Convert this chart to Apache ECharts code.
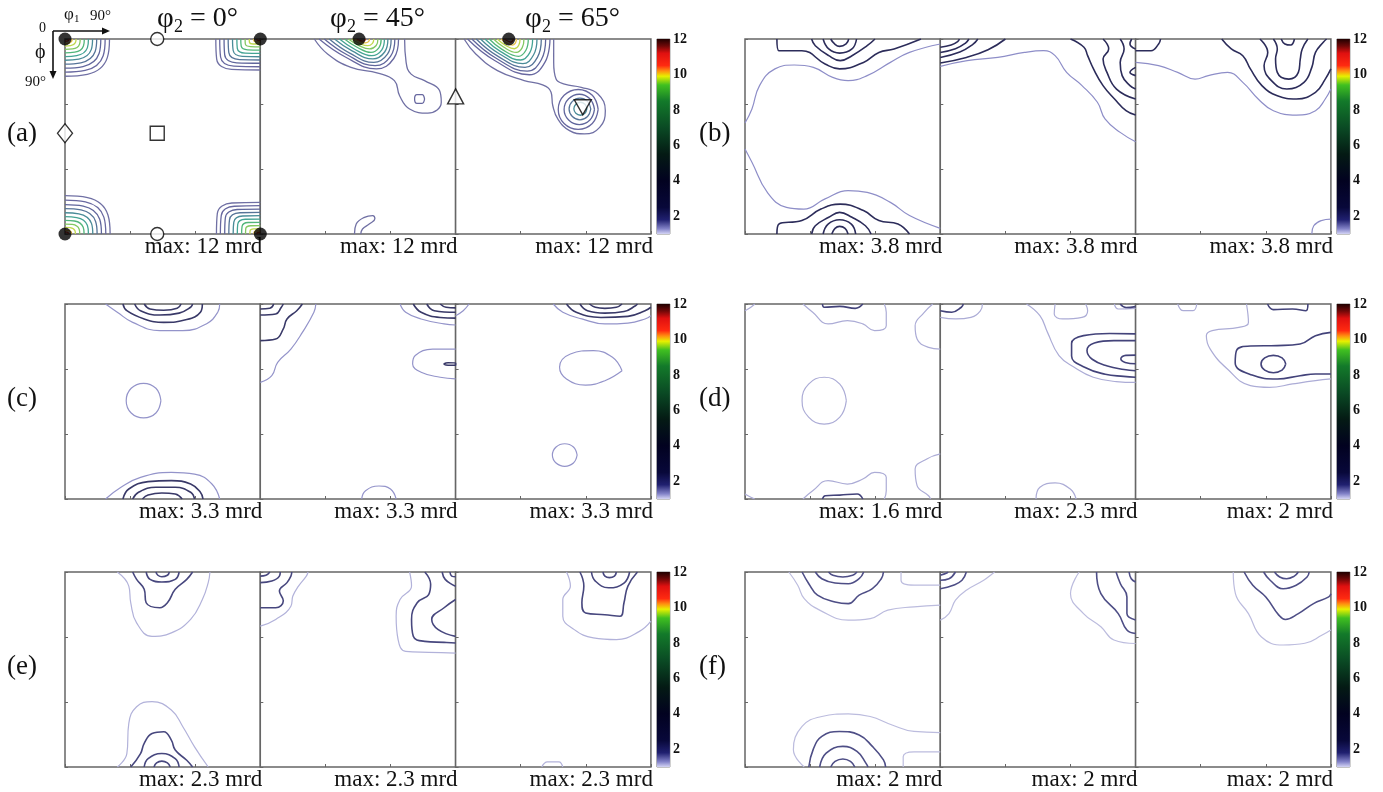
<!DOCTYPE html>
<html>
<head>
<meta charset="utf-8">
<script src="https://cdn.jsdelivr.net/npm/echarts@6/dist/echarts.min.js"></script>
<style>
html, body { margin: 0; padding: 0; background: #fff; }
#chart { width: 1383px; height: 792px; }
</style>
</head>
<body>
<div id="chart"></div>
<script>
// ODF sections: x = phi1 (0-90), y = Phi (0-90, downwards). Each contour = [level, points]
const panelNames = ['a', 'b', 'c', 'd', 'e', 'f'];
const phi2Values = [0, 45, 65];
const maxValues = [[12, 12, 12], [3.8, 3.8, 3.8], [3.3, 3.3, 3.3], [1.6, 2.3, 2], [2.3, 2.3, 2.3], [2, 2, 2]];
const barTicks = [2, 4, 6, 8, 10, 12];

// (a) phi2 = 0
const a1 = [
  [1, [[20.5,0],[19.5,8.6],[10.3,16.3],[0,17.2]]],
  [2, [[18.5,0],[17.6,7.7],[9.3,14.5],[0,15.3]]],
  [3, [[16.5,0],[15.7,6.7],[8.3,12.7],[0,13.4]]],
  [4, [[14.6,0],[13.9,5.8],[7.3,11.0],[0,11.6]]],
  [5, [[12.7,0],[12.1,4.9],[6.4,9.3],[0,9.8]]],
  [6, [[10.8,0],[10.3,4.1],[5.4,7.7],[0,8.1]]],
  [7, [[8.9,0],[8.5,3.2],[4.5,6.1],[0,6.4]]],
  [8, [[7.0,0],[6.7,2.4],[3.5,4.6],[0,4.8]]],
  [9, [[5.1,0],[4.8,1.7],[2.6,3.1],[0,3.3]]],
  [10, [[3.3,0],[3.1,1.0],[1.7,1.9],[0,2.0]]],
  [11, [[1.8,0],[1.7,0.5],[0.9,1.0],[0,1.0]]],
  [1, [[69.5,0],[69.9,9.3],[76.7,14.0],[90,14.3]]],
  [2, [[71.3,0],[71.7,8.3],[77.8,12.5],[90,12.8]]],
  [3, [[73.3,0],[73.6,7.3],[79.1,11.0],[90,11.2]]],
  [4, [[75.2,0],[75.5,6.3],[80.4,9.5],[90,9.7]]],
  [5, [[77.2,0],[77.5,5.3],[81.7,8.0],[90,8.2]]],
  [6, [[79.2,0],[79.4,4.3],[83.0,6.5],[90,6.6]]],
  [7, [[81.0,0],[81.2,3.3],[84.2,5.0],[90,5.1]]],
  [8, [[83.0,0],[83.1,2.3],[85.5,3.5],[90,3.6]]],
  [9, [[84.9,0],[85.0,1.5],[86.7,2.3],[90,2.3]]],
  [10, [[86.9,0],[87.0,0.8],[88.0,1.3],[90,1.3]]],
  [11, [[88.4,0],[88.4,0.4],[89.0,0.6],[90,0.6]]],
  [1, [[20.8,90],[19.8,81.2],[10.4,73.2],[0,72.3]]],
  [2, [[18.8,90],[17.9,82.2],[9.4,75.2],[0,74.4]]],
  [3, [[16.8,90],[16.0,83.2],[8.4,77.1],[0,76.4]]],
  [4, [[14.8,90],[14.1,84.2],[7.4,78.9],[0,78.3]]],
  [5, [[12.8,90],[12.2,85.1],[6.4,80.7],[0,80.2]]],
  [6, [[10.8,90],[10.3,86.0],[5.4,82.4],[0,82.0]]],
  [7, [[8.8,90],[8.4,86.9],[4.4,84.0],[0,83.7]]],
  [8, [[6.8,90],[6.5,87.7],[3.4,85.6],[0,85.4]]],
  [9, [[4.8,90],[4.6,88.5],[2.4,87.1],[0,86.9]]],
  [10, [[3.0,90],[2.9,89.1],[1.5,88.3],[0,88.2]]],
  [11, [[1.6,90],[1.5,89.5],[0.8,89.1],[0,89.1]]],
  [1, [[69.8,90],[70.2,80.5],[76.9,75.7],[90,75.4]]],
  [2, [[71.6,90],[72.0,81.5],[78.0,77.2],[90,76.9]]],
  [3, [[73.6,90],[73.9,82.5],[79.3,78.7],[90,78.5]]],
  [4, [[75.5,90],[75.8,83.5],[80.6,80.2],[90,80.0]]],
  [5, [[77.5,90],[77.8,84.5],[81.9,81.7],[90,81.5]]],
  [6, [[79.4,90],[79.6,85.5],[83.1,83.2],[90,83.1]]],
  [7, [[81.4,90],[81.6,86.5],[84.4,84.7],[90,84.6]]],
  [8, [[83.2,90],[83.3,87.5],[85.6,86.2],[90,86.1]]],
  [9, [[85.2,90],[85.3,88.4],[86.9,87.6],[90,87.5]]],
  [10, [[87.1,90],[87.2,89.1],[88.1,88.6],[90,88.6]]],
  [11, [[88.5,90],[88.5,89.5],[89.0,89.3],[90,89.3]]]
];
// (a) phi2 = 45
const a2 = [
  [1, [[24.9,0],[31,6.9],[41.8,13.1],[54.2,15.7],[61.8,19.2],[64.2,26.2],[68.8,32.3],[77.2,34.2],[83.4,29.2],[82.6,23.8],[75.7,19.2],[69.5,16.2],[67.2,10.8],[66.5,0]]],
  [2, [[75.7,27.7],[74.6,29.7],[72.2,29.7],[71.1,27.7],[72.2,25.7],[74.6,25.7],[75.7,27.7]]],
  [2, [[27.1,0],[39.2,8.3],[53.5,13.8],[61.5,9.0],[63.7,0]]],
  [3, [[29.5,0],[40.2,7.4],[52.9,12.3],[60.0,8.0],[62,0]]],
  [4, [[31.8,0],[41.2,6.5],[52.3,10.8],[58.6,7.0],[60.3,0]]],
  [5, [[34.2,0],[42.3,5.5],[51.9,9.2],[57.3,6.0],[58.8,0]]],
  [6, [[36.5,0],[43.3,4.6],[51.4,7.7],[56.0,5.0],[57.2,0]]],
  [7, [[38.8,0],[44.4,3.7],[51.0,6.2],[54.7,4.0],[55.7,0]]],
  [8, [[40.6,0],[45.1,2.8],[50.4,4.6],[53.4,3.0],[54.2,0]]],
  [9, [[42.2,0],[45.5,1.9],[49.5,3.1],[51.7,2.0],[52.3,0]]],
  [10, [[43.5,0],[45.7,1.1],[48.4,1.8],[49.9,1.2],[50.3,0]]],
  [11, [[44.5,0],[45.8,0.6],[47.3,1.0],[48.2,0.6],[48.5,0]]],
  [1, [[43.4,90],[44.2,85.4],[48,82.3],[51.8,81.5],[52.8,83],[50.2,85.4],[47.1,87.7],[46.3,90]]]
];
// (a) phi2 = 65
const a3 = [
  [1, [[3.9,0],[9.3,6.9],[19.3,14.6],[31.6,19.2],[40.1,21.2],[44,24.6],[44.8,30.8],[47.1,36.9],[52.5,42.3],[59.4,43.8],[66.4,40.8],[69,33.1],[65.6,25.4],[57.9,22.3],[50.2,20.8],[46.3,18.5],[45.2,10.8],[45.2,0]]],
  [2, [[5.5,0],[18.0,9.9],[34.0,16.5],[41.2,10.7],[43.5,0]]],
  [3, [[7.5,0],[18.7,8.9],[33.0,14.8],[39.5,9.6],[41.5,0]]],
  [4, [[9.5,0],[19.4,7.9],[32.0,13.1],[37.7,8.5],[39.5,0]]],
  [5, [[11.5,0],[20.1,6.8],[31.0,11.4],[35.9,7.4],[37.5,0]]],
  [6, [[13.5,0],[20.8,5.8],[30.0,9.7],[34.2,6.3],[35.5,0]]],
  [7, [[15.5,0],[21.4,4.8],[29.0,8.0],[32.4,5.2],[33.5,0]]],
  [8, [[17.5,0],[22.1,3.7],[28.0,6.2],[30.7,4.0],[31.5,0]]],
  [9, [[19.3,0],[22.7,2.7],[27.1,4.5],[29.1,2.9],[29.7,0]]],
  [10, [[21,0],[23.3,1.7],[26.3,2.8],[27.6,1.8],[28,0]]],
  [11, [[22.5,0],[23.8,0.8],[25.5,1.4],[26.3,0.9],[26.5,0]]],
  [2, [[65.7,32.5],[63.0,39.0],[56.5,41.7],[50.0,39.0],[47.3,32.5],[50.0,26.0],[56.5,23.3],[63.0,26.0],[65.7,32.5]]],
  [3, [[64,32.5],[61.9,37.4],[57,39.5],[52.1,37.4],[50,32.5],[52.1,27.6],[57,25.5],[61.9,27.6],[64,32.5]]],
  [4, [[62.3,32.3],[60.8,35.8],[57.3,37.3],[53.8,35.8],[52.3,32.3],[53.8,28.8],[57.3,27.3],[60.8,28.8],[62.3,32.3]]],
  [5, [[60.5,32.2],[59.6,34.3],[57.5,35.2],[55.4,34.3],[54.5,32.2],[55.4,30.1],[57.5,29.2],[59.6,30.1],[60.5,32.2]]]
];
// (b)
const b1 = [
  [1, [[0,38.8],[3.2,32.3],[6.7,21.5],[13.8,13.8],[22.7,12],[31.5,13.1],[40.4,17.7],[47.5,19.2],[56.3,16.9],[67,10.8],[75.8,6.2],[90,2.3]]],
  [2, [[14.7,0],[15.6,5.4],[26.2,5.4],[36.9,11.5],[43.6,13.8],[54.6,10.8],[61.7,6.2],[68.7,4.6],[81.1,0]]],
  [2, [[30.7,0],[32.4,3.1],[38.6,7.7],[43.9,10],[49.3,7.7],[56.3,3.1],[59.9,0]]],
  [2, [[36,0],[38.6,4.6],[43.6,6.5],[49.3,4.6],[51.4,0]]],
  [2, [[39.5,0],[41.3,2.3],[43.6,3.4],[46.6,2.3],[47.8,0]]],
  [1, [[0,50.8],[3.2,56.9],[10.3,70.8],[19.1,77.7],[27.1,78.5],[36.9,73.8],[47.5,70],[56.3,70.8],[67,75.4],[75.8,81.5],[90,87.4]]],
  [2, [[14.7,90],[15.6,85.4],[26.2,83.8],[35,78.5],[43.9,76.2],[54.6,79.2],[61.7,83.8],[70.5,85.4],[75.8,90]]],
  [2, [[30.7,90],[32.4,86.2],[38.6,82.3],[43.6,80],[49.3,82.3],[55.5,86.2],[58.1,90]]],
  [2, [[36,90],[38.3,85.4],[43.6,83.4],[49,85.4],[51,90]]],
  [2, [[40,90],[41.5,87.4],[43.6,86.5],[46.1,87.4],[47.5,90]]]
];
const b2 = [
  [1, [[0,12.6],[12.4,10],[26.5,8.5],[38.8,6.2],[47.6,5.4],[52.9,7.7],[58.2,15.4],[65.3,21.5],[72.4,29.2],[75.9,36.9],[82.9,43.1],[90,47.4]]],
  [2, [[0,11.1],[12,8.5],[22,5],[30,0]]],
  [2, [[0,8.5],[9,6],[15,2.5],[17.3,0]]],
  [2, [[0,6.2],[7,4.5],[11.5,2],[13.2,0]]],
  [2, [[0,3.8],[5,2.8],[8,1.2],[8.8,0]]],
  [2, [[60,0],[66.2,3.8],[67.9,7.7],[70.6,13.8],[75,21.5],[80.3,27.7],[85.6,33.1],[90,35.1]]],
  [2, [[75,0],[77.6,4.6],[75,9.2],[76.8,15.4],[81.2,23.1],[90,27.7]]],
  [2, [[82.9,0],[84.7,4.6],[82.9,10.8],[83.8,16.9],[87.4,21.5],[90,23.1]]],
  [2, [[88.2,0],[87.4,2.3],[90,4.6]]],
  [2, [[90,13.1],[87.4,15.4],[90,16.9]]]
];
const b3 = [
  [1, [[0,10.8],[10.6,12.3],[19.4,15.4],[27.4,18.5],[33.5,16.9],[42.4,15.4],[49.4,20],[56.5,27.7],[63.5,33.1],[74.1,35.1],[82.9,33.1],[87.4,27.7],[90,23.1]]],
  [2, [[0,5.4],[7.1,5.4],[10.6,2.3],[11.5,0]]],
  [2, [[39.7,0],[44.1,4.6],[49.4,7.7],[52.9,13.8],[58.2,21.5],[65.3,26.2],[74.1,27.7],[82.9,24.6],[87.4,18.5],[90,13.8]]],
  [2, [[57.3,0],[60.9,6.2],[59.2,12.3],[62.6,19.2],[69.7,23.1],[77.6,20],[81.2,13.1],[82.9,6.2],[86.5,1.5],[88,0]]],
  [2, [[63.5,0],[65.3,4.6],[64.5,9.2],[65.3,15.4],[70.6,18.5],[75,15.4],[75.9,9.2],[76.8,4.6],[79.4,0]]],
  [2, [[67.1,0],[68.8,2.3],[71.5,2.8],[73.2,0]]],
  [1, [[81.2,90],[82.1,86.2],[85.6,83.8],[90,83.1]]]
];
// (c)
const c1 = [
  [1, [[18.7,0],[24.1,3.8],[31.2,8.5],[43.7,12.3],[54.3,12.3],[65.1,9.2],[70.4,3.8],[71.3,0]]],
  [2, [[26.7,0],[28.5,3.1],[36.5,6.9],[45.5,8.5],[56.1,7.2],[62.4,3.8],[63.3,0]]],
  [2, [[32.1,0],[34.8,3.1],[43.7,5.1],[52.6,4.2],[57.9,1.5],[58.8,0]]],
  [2, [[36.5,0],[39.2,2.3],[45.5,2.9],[51.7,2],[53.5,0]]],
  [1, [[44.2,44.6],[41.9,50.3],[36.2,52.6],[30.5,50.3],[28.2,44.6],[30.5,38.9],[36.2,36.6],[41.9,38.9],[44.2,44.6]]],
  [1, [[18.7,90],[25.8,84.6],[34.8,80],[49,77.7],[59.7,78.5],[67.7,83.1],[71.3,90]]],
  [2, [[26.7,90],[29.4,85.4],[38.3,82],[49,81.5],[57.9,83.1],[62.4,86.9],[63.6,90]]],
  [2, [[31.2,90],[33.9,86.9],[41.9,84.6],[50.8,84.6],[57.9,86.9],[59.7,90]]],
  [2, [[35.7,90],[38.3,88.2],[44.6,87.2],[50.8,87.7],[54,90]]]
];
const c2 = [
  [1, [[0,36.2],[5.3,33.1],[8,26.9],[14.1,20.8],[19.4,13.1],[24.7,3.8],[25.6,0]]],
  [2, [[0,16.9],[7.1,16.2],[10.6,11.5],[12.3,6.9],[16.8,3.1],[19.4,0]]],
  [2, [[0,5.1],[7.1,4.6],[9.7,1.5],[10.6,0]]],
  [2, [[0,2.3],[4.4,2],[6.2,0]]],
  [1, [[64.4,0],[67,3.8],[74.1,6.9],[84.7,9.2],[90,9.7]]],
  [2, [[70.5,0],[74.1,3.8],[82.9,6.2],[90,6.5]]],
  [2, [[76.7,0],[80.2,3.1],[90,3.8]]],
  [2, [[82.9,0],[85.6,1.5],[90,1.8]]],
  [1, [[90,20.8],[79.4,20.8],[71.4,23.8],[70.2,27.7],[74.1,31.5],[82.9,33.8],[90,34.6]]],
  [2, [[84.5,27.7],[86.5,27.1],[90,27.2],[90,28.3],[86.5,28.3],[84.5,27.7]]],
  [1, [[46.7,90],[48.5,86.2],[54.7,84],[60,85.4],[62.6,90]]]
];
const c3 = [
  [1, [[0,5.4],[3.5,3.1],[6.2,0]]],
  [1, [[45,0],[49.4,3.8],[58.2,6.9],[68.8,9.2],[79.4,8.8],[87.3,6.9],[90,5.4]]],
  [2, [[51.1,0],[55.6,3.8],[67,6.2],[79.4,5.7],[87.3,3.1],[90,1.5]]],
  [2, [[57.3,0],[60.8,3.1],[68.8,4.2],[77.6,3.5],[82.9,0.8],[83.8,0]]],
  [2, [[61.7,0],[64.4,1.5],[68.8,2],[74.1,1.5],[76.7,0]]],
  [1, [[76.7,30.8],[72.3,24.6],[63.5,21.5],[52.9,23.1],[47.9,29.2],[51.1,34.6],[59.9,37.4],[68.8,35.4],[76.7,30.8]]],
  [1, [[56,69.7],[54.3,73.4],[50.3,74.9],[46.3,73.4],[44.6,69.7],[46.3,66],[50.3,64.5],[54.3,66],[56,69.7]]]
];
// (d)
const d1 = [
  [1, [[26.7,0],[31.2,3.8],[38.3,9.2],[47.2,7.7],[54.3,9.2],[59.7,12.3],[65.1,10],[65.1,3.8],[64.2,0]]],
  [2, [[35.7,0],[36.5,1.5],[43.7,1.1],[50.8,2],[54.3,0]]],
  [1, [[0,3.1],[2.7,1.5],[4.5,0]]],
  [1, [[86.5,0],[82.5,4],[78.4,10],[79.3,16.2],[84.6,20],[90,20.8]]],
  [1, [[46.7,44.6],[43.7,52.2],[36.5,55.4],[29.3,52.2],[26.3,44.6],[29.3,37],[36.5,33.8],[43.7,37],[46.7,44.6]]],
  [1, [[90,69.2],[83.8,71.5],[78.4,76.2],[79.3,83.8],[84.6,88.5],[85.5,90]]],
  [1, [[26.7,90],[31.2,86.2],[38.3,81.5],[47.2,83.1],[54.3,80.8],[59.7,77.7],[65.1,80],[65.1,86.2],[64.2,90]]],
  [2, [[35.7,90],[37,88.5],[43.7,88.2],[51.7,87.7],[54.3,90]]],
  [1, [[0,87.7],[2.7,89.2],[4.5,90]]]
];
const d2 = [
  [1, [[0,6.2],[7.1,6.9],[14.1,6.2],[18.5,3.1],[19.4,0]]],
  [2, [[0,3.1],[5.3,3.8],[9.7,1.5],[10.6,0]]],
  [1, [[39.7,0],[45.9,5.4],[49.4,13.1],[54.7,23.8],[61.7,29.2],[70.5,33.8],[81.1,35.8],[90,36.2]]],
  [1, [[52.9,0],[52.5,4.6],[56.4,6.9],[65.3,6.2],[67.9,3.1],[67,0]]],
  [1, [[80.2,0],[82,2.3],[90,2]]],
  [2, [[82.9,0],[85.6,1.6],[90,1.2]]],
  [2, [[90,13.8],[78,13.6],[66,14.6],[60.5,18.2],[60.5,24],[66.5,29.2],[76,32.4],[84.5,33.4],[90,33.8]]],
  [2, [[90,16.9],[80,16.9],[71,18],[67.6,21.5],[70,25.5],[77,28.6],[84.7,30.2],[90,30.8]]],
  [2, [[90,23.6],[85.5,23.7],[83.2,25.3],[85.2,27],[90,27.6]]],
  [1, [[44.1,90],[45.9,84.6],[52.9,82.6],[59.9,85.4],[62.6,90]]]
];
const d3 = [
  [1, [[19.4,0],[22,3.1],[26.5,3.1],[28.2,0]]],
  [2, [[60.8,0],[63.5,2.6],[72.3,2.3],[78.5,3.1],[79.4,0]]],
  [1, [[51.1,0],[52,8.5],[47.6,10.8],[35.3,12.3],[32.6,14.6],[34.4,20.8],[42.3,30],[52.9,37.7],[61.7,38.5],[72.3,36.9],[82.9,35.4],[90,34.6]]],
  [2, [[90,13.1],[82.9,14.6],[75.8,18.5],[65.3,19.2],[53,19.4],[46.5,21.5],[45.9,27.2],[53.7,32.8],[65.3,34.6],[75.8,33.1],[82.9,32.3],[90,32.3]]],
  [2, [[69.2,27.7],[67.5,30.5],[63.5,31.7],[59.5,30.5],[57.8,27.7],[59.5,24.9],[63.5,23.7],[67.5,24.9],[69.2,27.7]]]
];
// (e)
const e1 = [
  [1, [[24.1,0],[29.4,6.5],[30.3,14.2],[33,23.5],[40.1,29.7],[49,28.1],[57.9,21.9],[63.3,12.7],[66,4.9],[66.8,0]]],
  [2, [[31.2,0],[33,3.4],[36.5,8],[37.4,14.2],[43.7,16.5],[47.2,14.2],[50.8,8],[56.1,3.4],[58.8,0]]],
  [2, [[37.4,0],[39.2,3.4],[44.6,4.6],[50.8,3.4],[52.6,0]]],
  [2, [[41.9,0],[42.8,1.5],[44.6,2.2],[47.2,1.5],[48.1,0]]],
  [1, [[24.1,90],[28.5,83.8],[29.4,69.9],[33,62.2],[40.1,59.8],[49,63.7],[54.3,71.4],[59.7,80.7],[66,90]]],
  [2, [[30.3,90],[34.8,83.8],[36.5,79.1],[40.1,74.5],[45.5,73.7],[49,77.6],[50.8,82.2],[56.1,86.9],[58.8,90]]],
  [2, [[36.5,90],[38.3,86.1],[44.6,83.8],[50.8,86.1],[52.6,90]]],
  [2, [[41,90],[42.2,88.1],[44.6,87.3],[47.2,88.1],[48.5,90]]]
];
const e2 = [
  [1, [[0,25],[7.1,21.9],[14.1,15.8],[15,11.1],[17.6,6.5],[21.2,1.9],[22,0]]],
  [2, [[0,16.5],[7.1,16.5],[10.6,13.3],[8.8,8.8],[12.3,4.9],[14.1,1.9],[14.5,0]]],
  [2, [[0,4.9],[5.3,4.2],[8.8,1.9],[9.2,0]]],
  [2, [[0,1.9],[2.6,1.5],[4.4,0]]],
  [1, [[68.8,0],[69.7,6.5],[64.4,12.7],[62.6,20.4],[63.5,31.2],[67,36.6],[77.6,37.1],[90,37.4]]],
  [2, [[75.8,0],[78.5,5.7],[77.6,10.4],[72.3,14.2],[69.7,21.9],[70.5,29.7],[75.8,32],[84.7,32.5],[90,32.8]]],
  [2, [[83.8,0],[85.2,3.4],[89.1,6.2],[90,6.5]]],
  [2, [[90,12.7],[84.7,16.5],[79,21.9],[82,26.6],[90,29.7]]],
  [2, [[87.4,0],[88.2,1.9],[90,2.2]]]
];
const e3 = [
  [1, [[51.1,0],[52.9,6.5],[49.4,12.7],[49.4,20.4],[54.7,26.6],[63.5,30.4],[74.1,31.2],[84.7,27.4],[90,22.7]]],
  [2, [[57.3,0],[59.1,6.5],[58.2,14.2],[59.9,18.9],[68.8,19.7],[75.8,20.4],[77.6,14.2],[79.4,6.5],[83.8,0]]],
  [2, [[62.6,0],[64.4,4.2],[70.5,7.3],[77.6,5.1],[80.2,0]]],
  [2, [[67.9,0],[68.8,1.9],[70.9,2.6],[73.2,1.9],[74.1,0]]],
  [1, [[39.7,90],[42.3,87.6],[47.6,87.6],[49.4,90]]]
];
// (f)
const f1 = [
  [1, [[20.2,0],[24.3,6.1],[27.3,12.3],[34.4,17.6],[47.6,22.2],[57.7,21.5],[65.8,17.6],[77.9,16.1],[90,15.3]]],
  [1, [[71.9,0],[71.9,3.8],[77.9,6.1],[90,6.1]]],
  [2, [[26.3,0],[29.4,5.4],[33.4,10.7],[41.5,13.8],[47.6,14.6],[52.6,10.7],[58.7,7.7],[62.8,3.1],[63.8,0]]],
  [2, [[32.4,0],[35.4,3.1],[41.5,5.1],[47.6,5.4],[52.6,3.1],[54.7,0]]],
  [2, [[38.5,0],[40.5,1.5],[45.1,2.3],[49.6,1.5],[51.6,0]]],
  [1, [[27.3,90],[22.3,82],[26.3,71.3],[35.4,66.7],[47.6,65.5],[57.7,66.7],[67.8,70.6],[77.9,73.6],[90,74.1]]],
  [2, [[29.4,90],[31.4,82],[35.4,75.9],[43.5,73.6],[52.6,75.2],[58.7,80.5],[63.8,86.7],[64.8,90]]],
  [2, [[34.4,90],[37.4,83.6],[45.1,80.5],[51.6,82.8],[55.7,88.2],[56.7,90]]],
  [2, [[39.5,90],[41.5,87.4],[45.1,86.3],[48.6,87.4],[50.6,90]]],
  [1, [[72.9,90],[72.9,85.3],[77.9,83],[90,83]]]
];
const f2 = [
  [1, [[0,22.2],[4,19.2],[7,13],[12,8.4],[20,3.8],[24,0.8],[25,0]]],
  [2, [[0,7.7],[6,6.1],[10,3.8],[12,0]]],
  [2, [[0,3.8],[4,3.1],[7,0]]],
  [2, [[0,1.5],[3,0.5],[3.6,0]]],
  [1, [[64,0],[60,10],[66,19.2],[74,25.3],[80,31.4],[90,33]]],
  [2, [[72,0],[74,10],[82,19.2],[86,26.8],[90,28.4]]],
  [2, [[81,0],[83,5.4],[86,11.5],[86,19.2],[90,22.2]]],
  [2, [[87,0],[88,3.1],[90,4.6]]]
];
const f3 = [
  [1, [[45,0],[46,10],[52,19.2],[58,30],[68,33.7],[78,32.9],[86,29.1],[90,26.8]]],
  [2, [[50,0],[54,6.1],[60,11.5],[66,19.9],[69,21.9],[75,19.2],[82,14.6],[89,11.5],[90,10]]],
  [2, [[59,0],[62,3.8],[68,7.7],[74,6.1],[79,2.3],[80,0]]],
  [2, [[64,0],[66.4,2.3],[69.6,3.1],[73,2],[75,0]]]
];

// reference orientations in (a): [square, phi1, Phi]
const fullCircles = [[0,0,0],[0,90,0],[0,0,90],[0,90,90],[1,45.5,0],[2,24.5,0]];
const openCircles = [[0,42.5,0],[0,42.5,90]];
const diamonds = [[0,0,43.5]];
const squares = [[0,42.5,43.5]];
const upTriangles = [[2,0,26.5]];
const downTriangles = [[2,58.6,31.5]];

const sections = [a1, a2, a3, b1, b2, b3, c1, c2, c3, d1, d2, d3, e1, e2, e3, f1, f2, f3];

// ---- layout ----
const SERIF = '"Liberation Serif", "DejaVu Serif", serif';
const sq = 195.3, sqH = 195;
const colX = [65, 745];
const rowY = [39, 304, 572];
const letterX = [7, 699];
const levelColorsA = ['#7070a4','#6868a0','#60669c','#567498','#4a8c98','#44a494','#52b67a','#82c862','#c0d84e','#e8c044','#d8402c'];
const lightDark = [null, ['#8e8ec8','#2c2c5a'], ['#9494ca','#393968'], ['#acacd6','#43437a'], ['#b2b2da','#47477e'], ['#bcbcde','#4e4e86']];

const grid = [], xAxis = [], yAxis = [], series = [], graphic = [];
const tickStyle = { show: true, inside: true, length: 3, lineStyle: { color: '#666' } };

sections.forEach(function (sec, g) {
  const p = Math.floor(g / 3), j = g % 3;
  const x0 = colX[p % 2], y0 = rowY[Math.floor(p / 2)];
  grid.push({ left: x0 + j * sq, top: y0, width: sq, height: sqH, show: true, borderColor: '#666', borderWidth: 1.5, backgroundColor: '#fff' });
  xAxis.push({ gridIndex: g, type: 'value', min: 0, max: 90, interval: 30,
    axisLine: { show: false, onZero: false }, axisLabel: { show: false }, splitLine: { show: false }, axisTick: tickStyle });
  yAxis.push({ gridIndex: g, type: 'value', min: 0, max: 90, interval: 30, inverse: true,
    axisLine: { show: false }, axisLabel: { show: false }, splitLine: { show: false }, axisTick: tickStyle });
  sec.forEach(function (c) {
    const lev = c[0];
    let color, width;
    if (p === 0) { color = levelColorsA[lev - 1]; width = 1.3; }
    else { color = lev === 1 ? lightDark[p][0] : lightDark[p][1]; width = lev === 1 ? 1.2 : 1.6; }
    series.push({ type: 'line', xAxisIndex: g, yAxisIndex: g, data: c[1], smooth: 0.45,
      symbol: 'none', silent: true, z: 3, lineStyle: { color: color, width: width } });
  });
});

// colour bars
const barStops = [
  [0, '#d4d4f4'], [0.027, '#8282c8'], [0.073, '#202070'], [0.136, '#08083a'], [0.273, '#020220'],
  [0.409, '#041a14'], [0.545, '#0a4a24'], [0.682, '#137a2a'], [0.764, '#40c020'], [0.809, '#e8f000'],
  [0.836, '#ff9010'], [0.864, '#ff2a10'], [0.927, '#e01010'], [0.964, '#700808'], [1, '#200000']
];
panelNames.forEach(function (name, p) {
  const x0 = colX[p % 2], y0 = rowY[Math.floor(p / 2)];
  const gi = grid.length;
  grid.push({ left: x0 + 3 * sq + 6, top: y0, width: 13, height: sqH, show: true, borderColor: '#888', borderWidth: 1 });
  xAxis.push({ gridIndex: gi, type: 'category', data: [''], show: false });
  yAxis.push({ gridIndex: gi, type: 'value', min: 1, max: 12, position: 'right',
    axisLine: { show: false }, axisTick: { show: false }, splitLine: { show: false },
    axisLabel: { customValues: barTicks, margin: 3, color: '#111', fontFamily: SERIF, fontWeight: 'bold', fontSize: 14 } });
  series.push({ type: 'bar', xAxisIndex: gi, yAxisIndex: gi, data: [12], barWidth: '100%', silent: true,
    itemStyle: { color: new echarts.graphic.LinearGradient(0, 1, 0, 0, barStops.map(function (s) { return { offset: s[0], color: s[1] }; })) } });

  graphic.push({ type: 'text', x: letterX[p % 2], y: y0 + 95, style: { text: '(' + name + ')', font: '27px ' + SERIF, fill: '#111', textVerticalAlign: 'middle', verticalAlign: 'middle' } });
  maxValues[p].forEach(function (m, j) {
    graphic.push({ type: 'text', x: x0 + (j + 1) * sq + 2, y: y0 + sqH + 13,
      style: { text: 'max: ' + m + ' mrd', font: '23px ' + SERIF, fill: '#111', textAlign: 'right', align: 'right', textVerticalAlign: 'middle', verticalAlign: 'middle' } });
  });
});

// reference symbols in panel (a)
function addMarkers(list, symbol, size, filled, rotate) {
  list.forEach(function (m) {
    series.push({ type: 'scatter', xAxisIndex: m[0], yAxisIndex: m[0], data: [[m[1], m[2]]], symbol: symbol,
      symbolSize: size, symbolRotate: rotate || 0, clip: false, silent: true, z: 6,
      itemStyle: { color: filled ? '#000' : '#fff', borderColor: '#000', borderWidth: filled ? 0 : 1.4 } });
  });
}
addMarkers(fullCircles, 'circle', 13, true);
addMarkers(openCircles, 'circle', 13, false);
addMarkers(diamonds, 'diamond', [15, 19], false);
addMarkers(squares, 'rect', 14, false);
addMarkers(upTriangles, 'triangle', [16, 15], false);
addMarkers(downTriangles, 'triangle', [17, 15], false, 180);

// phi2 headers
const headX = [157, 330, 525];
phi2Values.forEach(function (v, j) {
  graphic.push({ type: 'text', x: headX[j], y: 19, style: { text: 'φ', font: '29px ' + SERIF, fill: '#111', textVerticalAlign: 'middle', verticalAlign: 'middle' } });
  graphic.push({ type: 'text', x: headX[j] + 17, y: 27, style: { text: '2', font: '18px ' + SERIF, fill: '#111', textVerticalAlign: 'middle', verticalAlign: 'middle' } });
  graphic.push({ type: 'text', x: headX[j] + 33, y: 19, style: { text: '= ' + v + '°', font: '28px ' + SERIF, fill: '#111', textVerticalAlign: 'middle', verticalAlign: 'middle' } });
});

// axis key (top-left)
graphic.push(
  { type: 'text', x: 39, y: 28, style: { text: '0', font: '14px ' + SERIF, fill: '#111', textVerticalAlign: 'middle', verticalAlign: 'middle' } },
  { type: 'text', x: 64, y: 15, style: { text: 'φ', font: '17px ' + SERIF, fill: '#111', textVerticalAlign: 'middle', verticalAlign: 'middle' } },
  { type: 'text', x: 74, y: 19, style: { text: '1', font: '11px ' + SERIF, fill: '#111', textVerticalAlign: 'middle', verticalAlign: 'middle' } },
  { type: 'text', x: 90, y: 16, style: { text: '90°', font: '15px ' + SERIF, fill: '#111', textVerticalAlign: 'middle', verticalAlign: 'middle' } },
  { type: 'text', x: 35, y: 53, style: { text: 'ϕ', font: '20px ' + SERIF, fill: '#111', textVerticalAlign: 'middle', verticalAlign: 'middle' } },
  { type: 'text', x: 25, y: 82, style: { text: '90°', font: '15px ' + SERIF, fill: '#111', textVerticalAlign: 'middle', verticalAlign: 'middle' } },
  { type: 'line', shape: { x1: 53, y1: 31, x2: 104, y2: 31 }, style: { stroke: '#111', lineWidth: 1.6 } },
  { type: 'polygon', shape: { points: [[110, 31], [102, 27.5], [102, 34.5]] }, style: { fill: '#111' } },
  { type: 'line', shape: { x1: 53, y1: 31, x2: 53, y2: 73 }, style: { stroke: '#111', lineWidth: 1.6 } },
  { type: 'polygon', shape: { points: [[53, 79], [49.5, 71], [56.5, 71]] }, style: { fill: '#111' } }
);

const chart = echarts.init(document.getElementById('chart'));
chart.setOption({
  animation: false,
  backgroundColor: '#fff',
  grid: grid,
  xAxis: xAxis,
  yAxis: yAxis,
  series: series,
  graphic: graphic
});
</script>
</body>
</html>
